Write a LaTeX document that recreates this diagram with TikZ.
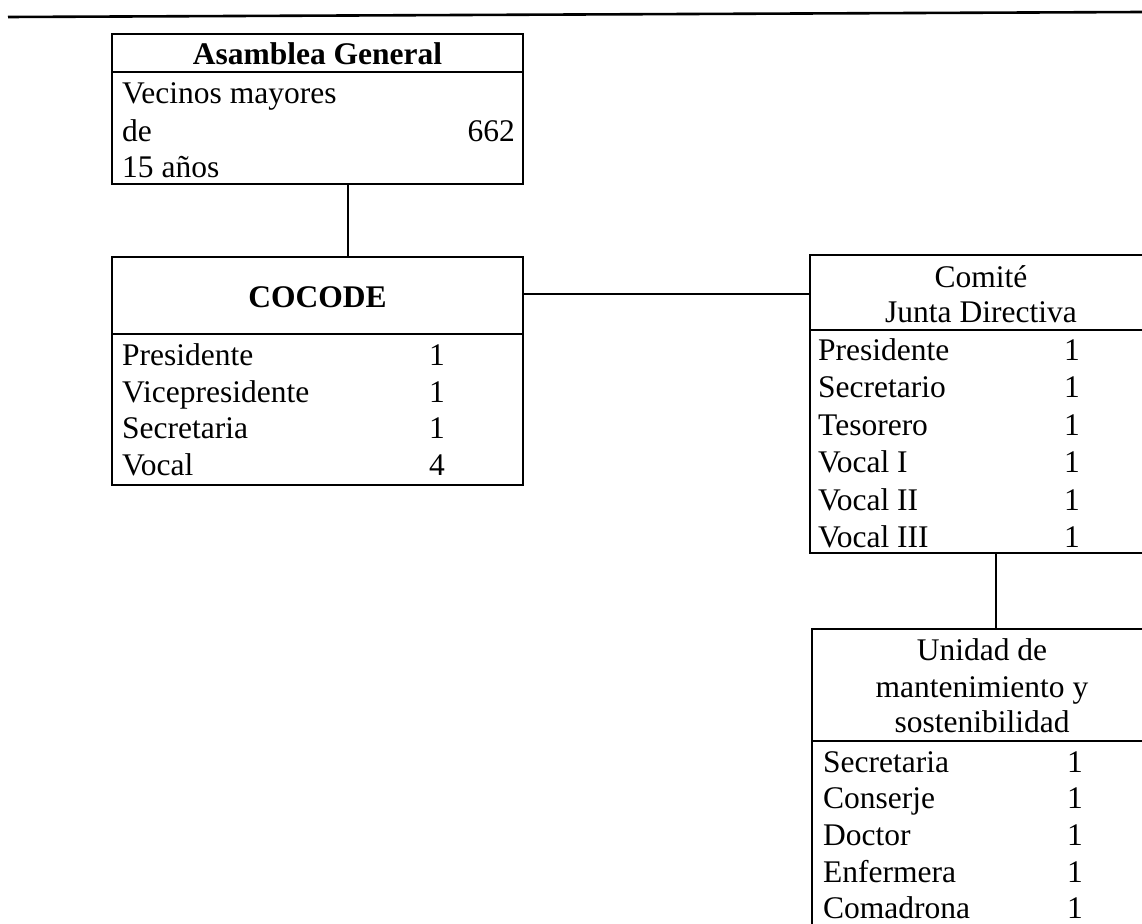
\documentclass[tikz,border=0pt]{standalone}
\usepackage{fontspec}
\setmainfont{Liberation Serif}
\begin{document}
\begin{tikzpicture}[x=1pt,y=-1pt,
  box/.style={draw, line width=1.6pt, rectangle, inner sep=0pt, outer sep=0pt, anchor=north west},
  divider/.style={line width=1.6pt},
  conn/.style={line width=1.6pt},
  toprule/.style={line width=2.6pt},
  txt/.style={inner sep=0pt, anchor=base west, font=\fontsize{31.5}{37}\selectfont},
  num/.style={inner sep=0pt, anchor=base, font=\fontsize{31.5}{37}\selectfont},
  numr/.style={inner sep=0pt, anchor=base east, font=\fontsize{31.5}{37}\selectfont},
  head/.style={inner sep=0pt, anchor=base, font=\fontsize{31.5}{37}\selectfont},
  bhead/.style={inner sep=0pt, anchor=base, font=\fontsize{31.5}{37}\selectfont\bfseries}]
\useasboundingbox (0,0) rectangle (1142,923);
\clip (0,0) rectangle (1142,923);

% top rule
\coordinate (tl) at (8,17);
\coordinate (tr) at (1142,12);
\draw[toprule] (tl) -- (tr);

% boxes
\node[box, minimum width=411pt, minimum height=150pt] (asm) at (112,34) {};
\node[box, minimum width=411pt, minimum height=228pt] (cocode) at (112,257) {};
\node[box, minimum width=342pt, minimum height=298pt] (comite) at (810,255) {};
\node[box, minimum width=340pt, minimum height=310pt] (unidad) at (812,629) {};

% dividers
\draw[divider] ([yshift=-38pt]asm.north west) -- ([yshift=-38pt]asm.north east);
\draw[divider] ([yshift=-77pt]cocode.north west) -- ([yshift=-77pt]cocode.north east);
\draw[divider] ([yshift=-75pt]comite.north west) -- ([yshift=-75pt]comite.north east);
\draw[divider] ([yshift=-112pt]unidad.north west) -- ([yshift=-112pt]unidad.north east);

% connectors
\draw[conn] ([xshift=236pt]asm.south west) -- ([xshift=236pt]cocode.north west);
\draw[conn] ([yshift=-37pt]cocode.north east) -- ([yshift=-39pt]comite.north west);
\draw[conn] ([xshift=186pt]comite.south west) -- ([xshift=184pt]unidad.north west);

% Asamblea General
\node[bhead] (asmh) at (317.5,65) {Asamblea General};
\node[txt] (asm1) at (122,104) {Vecinos mayores};
\node[txt] (asm2) at (122,141) {de};
\node[numr] (asm2n) at (515,141) {662};
\node[txt] (asm3) at (122,177) {15 años};

% COCODE
\node[bhead] (coh) at (317.5,307) {COCODE};
\node[txt] (co1) at (122,365) {Presidente};
\node[num] (co1n) at (437,365) {1};
\node[txt] (co2) at (122,402) {Vicepresidente};
\node[num] (co2n) at (437,402) {1};
\node[txt] (co3) at (122,438) {Secretaria};
\node[num] (co3n) at (437,438) {1};
\node[txt] (co4) at (122,475) {Vocal};
\node[num] (co4n) at (437,475) {4};

% Comite
\node[head] (cmh1) at (981,287) {Comité};
\node[head] (cmh2) at (981,322) {Junta Directiva};
\node[txt] (cm1) at (818,360) {Presidente};
\node[num] (cm1n) at (1072,360) {1};
\node[txt] (cm2) at (818,397) {Secretario};
\node[num] (cm2n) at (1072,397) {1};
\node[txt] (cm3) at (818,435) {Tesorero};
\node[num] (cm3n) at (1072,435) {1};
\node[txt] (cm4) at (818,472) {Vocal I};
\node[num] (cm4n) at (1072,472) {1};
\node[txt] (cm5) at (818,510) {Vocal II};
\node[num] (cm5n) at (1072,510) {1};
\node[txt] (cm6) at (818,547) {Vocal III};
\node[num] (cm6n) at (1072,547) {1};

% Unidad
\node[head] (unh1) at (982,660) {Unidad de};
\node[head] (unh2) at (982,697) {mantenimiento y};
\node[head] (unh3) at (982,732) {sostenibilidad};
\node[txt] (un1) at (823,772) {Secretaria};
\node[num] (un1n) at (1075,772) {1};
\node[txt] (un2) at (823,808) {Conserje};
\node[num] (un2n) at (1075,808) {1};
\node[txt] (un3) at (823,845) {Doctor};
\node[num] (un3n) at (1075,845) {1};
\node[txt] (un4) at (823,882) {Enfermera};
\node[num] (un4n) at (1075,882) {1};
\node[txt] (un5) at (823,918) {Comadrona};
\node[num] (un5n) at (1075,918) {1};
\end{tikzpicture}
\end{document}
